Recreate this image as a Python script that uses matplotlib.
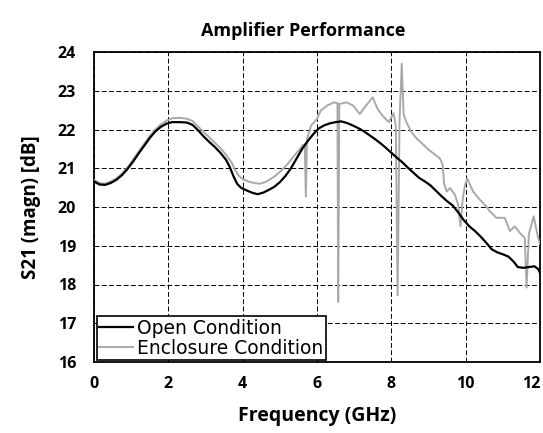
import matplotlib
matplotlib.use("Agg")
import matplotlib.pyplot as plt

# Open condition (black trace)
open_freq = [0.00, 0.15, 0.30, 0.45, 0.60, 0.75, 0.90, 1.05, 1.20, 1.35, 1.50, 1.65,
             1.80, 1.95, 2.10, 2.30, 2.50, 2.65, 2.80, 2.95, 3.10, 3.25, 3.40, 3.55,
             3.65, 3.75, 3.85, 3.95, 4.10, 4.25, 4.40, 4.55, 4.70, 4.85, 5.00, 5.15,
             5.30, 5.45, 5.60, 5.75, 5.90, 6.05, 6.20, 6.35, 6.50, 6.65, 6.80, 6.95,
             7.10, 7.25, 7.40, 7.55, 7.70, 7.85, 8.00, 8.15, 8.30, 8.45, 8.60, 8.75,
             8.90, 9.05, 9.20, 9.35, 9.50, 9.65, 9.80, 9.95, 10.10, 10.25, 10.40, 10.55,
             10.70, 10.85, 11.00, 11.15, 11.30, 11.40, 11.55, 11.70, 11.85, 11.95, 12.00]
open_s21 = [20.66, 20.58, 20.57, 20.62, 20.70, 20.82, 20.98, 21.17, 21.38, 21.58, 21.78, 21.95,
            22.07, 22.15, 22.19, 22.19, 22.18, 22.12, 21.98, 21.82, 21.68, 21.55, 21.40, 21.22,
            21.04, 20.80, 20.60, 20.50, 20.43, 20.37, 20.33, 20.37, 20.44, 20.52, 20.64, 20.80,
            21.00, 21.25, 21.50, 21.70, 21.88, 22.03, 22.11, 22.16, 22.19, 22.21, 22.17, 22.11,
            22.04, 21.96, 21.86, 21.76, 21.65, 21.53, 21.40, 21.27, 21.15, 21.01, 20.88, 20.75,
            20.66, 20.56, 20.42, 20.28, 20.15, 20.04, 19.86, 19.66, 19.50, 19.38, 19.24, 19.08,
            18.91, 18.83, 18.78, 18.72, 18.58, 18.45, 18.43, 18.45, 18.47, 18.40, 18.30]

# Enclosure condition (grey trace)
encl_freq = [0.00, 0.15, 0.30, 0.45, 0.60, 0.75, 0.90, 1.05, 1.20, 1.35, 1.50, 1.65,
             1.80, 1.95, 2.10, 2.30, 2.50, 2.65, 2.80, 2.95, 3.10, 3.25, 3.40, 3.55,
             3.70, 3.80, 3.90, 4.00, 4.15, 4.30, 4.45, 4.60, 4.75, 4.90, 5.05, 5.20,
             5.35, 5.50, 5.62, 5.67, 5.70, 5.73, 5.84, 6.00, 6.10, 6.28, 6.45, 6.55,
             6.57, 6.60, 6.80, 6.97, 7.15, 7.32, 7.50, 7.63, 7.76, 7.93, 8.06, 8.12,
             8.17, 8.22, 8.28, 8.33, 8.40, 8.54, 8.70, 8.85, 9.00, 9.15, 9.30, 9.38,
             9.42, 9.49, 9.58, 9.71, 9.80, 9.86, 9.92, 9.98, 10.04, 10.20, 10.38, 10.55,
             10.65, 10.83, 11.05, 11.19, 11.32, 11.46, 11.59, 11.64, 11.70, 11.83, 11.95, 12.00]
encl_s21 = [20.70, 20.62, 20.60, 20.66, 20.74, 20.86, 21.02, 21.22, 21.43, 21.63, 21.83, 22.00,
            22.13, 22.23, 22.29, 22.30, 22.28, 22.22, 22.08, 21.93, 21.80, 21.66, 21.52, 21.35,
            21.15, 20.95, 20.80, 20.72, 20.66, 20.62, 20.60, 20.64, 20.72, 20.82, 20.95, 21.10,
            21.28, 21.45, 21.60, 21.62, 20.27, 21.75, 22.10, 22.27, 22.49, 22.62, 22.70, 22.68,
            17.55, 22.66, 22.70, 22.62, 22.40, 22.62, 22.83, 22.53, 22.36, 22.19, 22.42, 22.10,
            17.72, 22.20, 23.70, 22.40, 22.20, 21.93, 21.75, 21.62, 21.48, 21.37, 21.26, 21.10,
            20.60, 20.40, 20.49, 20.32, 20.06, 19.50, 20.20, 20.55, 20.74, 20.40, 20.19, 20.02,
            19.89, 19.72, 19.72, 19.38, 19.50, 19.33, 19.20, 17.92, 19.30, 19.76, 19.20, 19.05]

x_ticks = [0, 2, 4, 6, 8, 10, 12]
y_ticks = [16, 17, 18, 19, 20, 21, 22, 23, 24]

bold_font = "Open Sans"

fig = plt.figure(figsize=(5.43, 4.33), dpi=100)
ax = fig.add_axes([94 / 543, 71 / 433, 446 / 543, 310 / 433])

ax.plot(encl_freq, encl_s21, color="#a9a9a9", lw=1.4, label="Enclosure Condition", zorder=3)
ax.plot(open_freq, open_s21, color="black", lw=1.6, label="Open Condition", zorder=4)

ax.set_xlim(0, 12)
ax.set_ylim(16, 24)
ax.set_xticks(x_ticks)
ax.set_yticks(y_ticks)
ax.tick_params(length=0, pad=10)
for lab in ax.get_xticklabels() + ax.get_yticklabels():
    lab.set_fontfamily(bold_font)
    lab.set_fontweight("bold")
    lab.set_fontsize(11.5)
ax.tick_params(axis="y", pad=13)
# last x label sits at the figure edge, keep it inside
ax.get_xticklabels()[-1].set_horizontalalignment("right")

ax.grid(True, color="black", linestyle=(0, (5, 2.5)), linewidth=0.7)
for sp in ax.spines.values():
    sp.set_linewidth(1.3)
    sp.set_color("black")

ax.set_xlabel("Frequency (GHz)", fontfamily=bold_font, fontweight="bold", fontsize=14, labelpad=10)
ax.set_ylabel("S21 (magn) [dB]", fontfamily=bold_font, fontweight="bold", fontsize=13.5, labelpad=12)
fig.text(303 / 543, 1 - 31 / 433, "Amplifier Performance", fontfamily=bold_font,
         fontweight="bold", fontsize=13, ha="center", va="center")

handles, labels = ax.get_legend_handles_labels()
leg = ax.legend(handles[::-1], labels[::-1], loc="lower left", bbox_to_anchor=(0.006, 0.005),
                borderaxespad=0, prop={"family": "DejaVu Sans", "size": 13.5},
                handlelength=1.8, handletextpad=0.2, borderpad=0.15, labelspacing=0.05,
                fancybox=False, framealpha=1)
leg.get_frame().set_edgecolor("black")
leg.get_frame().set_linewidth(1.2)
leg.set_zorder(10)

fig.savefig("out.png", dpi=100)
